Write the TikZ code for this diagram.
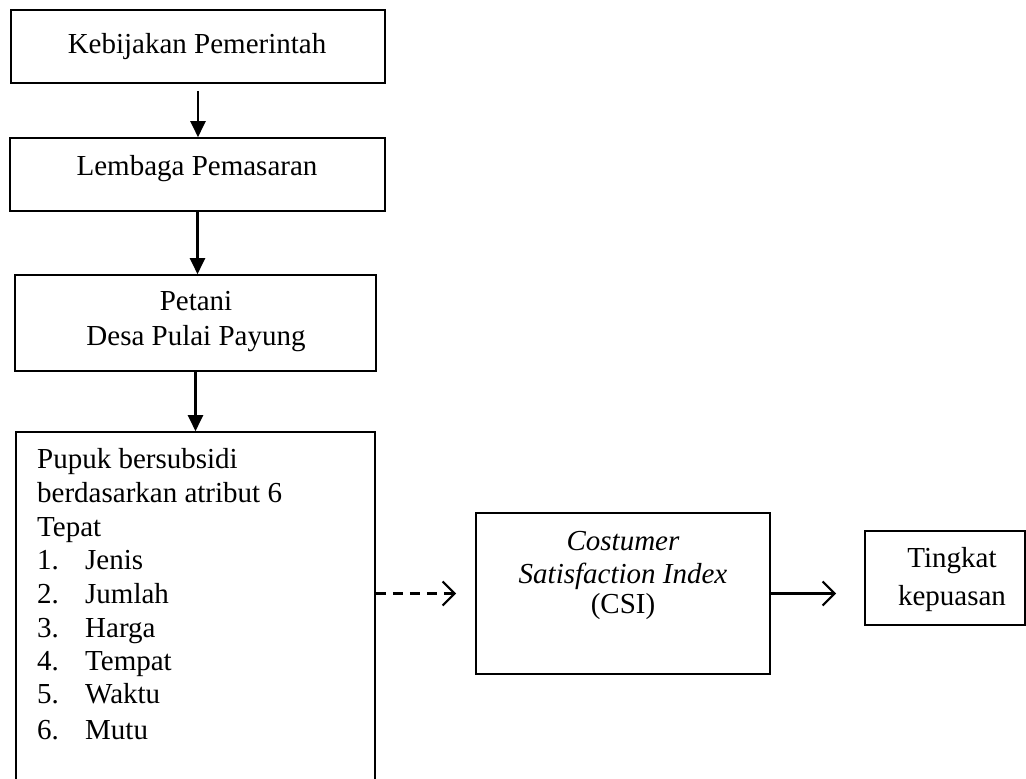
\documentclass[tikz,border=0pt]{standalone}
\usepackage{fontspec}
\setmainfont{Liberation Serif}
\usetikzlibrary{arrows.meta}
\begin{document}
\begin{tikzpicture}[x=1pt,y=-1pt,
  box/.style={draw, line width=1.6pt, rectangle, inner sep=0pt},
  txt/.style={inner sep=0pt, font=\fontsize{29}{34}\selectfont},
  ctxt/.style={txt, anchor=base},
  ltxt/.style={txt, anchor=base west},
  down/.style={line width=2.2pt, -{Triangle[length=16pt,width=15pt]}},
  side/.style={line width=2.2pt, -{Straight Barb[length=12pt,width=24pt,line width=2.2pt]}},
  dashline/.style={side, dash pattern=on 10pt off 7pt}]
\useasboundingbox (0,0) rectangle (1026,779);
\clip (0,0) rectangle (1026,779);
\node[box, minimum width=374pt, minimum height=73pt] (b1) at (198,46.5) {};
\node[box, minimum width=375pt, minimum height=73pt] (b2) at (197.5,174.5) {};
\node[box, minimum width=361pt, minimum height=96pt] (b3) at (195.5,323) {};
\node[box, minimum width=359pt, minimum height=380pt] (b4) at (195.5,622) {};
\node[box, minimum width=294pt, minimum height=161pt] (b5) at (623,593.5) {};
\node[box, minimum width=160pt, minimum height=94pt] (b6) at (945,578) {};

\node[ctxt] (t1) at (197,53) {Kebijakan Pemerintah};
\node[ctxt] (t2) at (197,175) {Lembaga Pemasaran};
\node[ctxt] (t3a) at (196,310) {Petani};
\node[ctxt] (t3b) at (196,345) {Desa Pulai Payung};
\node[ltxt] (t4a) at (37,468) {Pupuk bersubsidi};
\node[ltxt] (t4b) at (37,502) {berdasarkan atribut 6};
\node[ltxt] (t4c) at (37,536) {Tepat};
\node[ltxt] (n1) at (37,569) {1.};
\node[ltxt] (i1) at (85,569) {Jenis};
\node[ltxt] (n2) at (37,603) {2.};
\node[ltxt] (i2) at (85,603) {Jumlah};
\node[ltxt] (n3) at (37,637) {3.};
\node[ltxt] (i3) at (85,637) {Harga};
\node[ltxt] (n4) at (37,670) {4.};
\node[ltxt] (i4) at (85,670) {Tempat};
\node[ltxt] (n5) at (37,703) {5.};
\node[ltxt] (i5) at (85,703) {Waktu};
\node[ltxt] (n6) at (37,739) {6.};
\node[ltxt] (i6) at (85,739) {Mutu};
\node[ctxt] (t5a) at (623,550) {\itshape Costumer};
\node[ctxt] (t5b) at (623,583) {\itshape Satisfaction Index};
\node[ctxt] (t5c) at (623,613) {(CSI)};
\node[ctxt] (t6a) at (952,567) {Tingkat};
\node[ctxt] (t6b) at (952,605) {kepuasan};

\draw[down, shorten <=7pt] (b1.south) -- (b1.south |- b2.north);
\draw[down] (b2.south) -- (b2.south |- b3.north);
\draw[down] (b3.south) -- (b3.south |- b4.north);
\draw[dashline, shorten >=19pt] (b4.east |- b5.west) -- (b5.west);
\draw[side, shorten >=28pt] (b5.east) -- (b5.east -| b6.west);
\end{tikzpicture}
\end{document}
